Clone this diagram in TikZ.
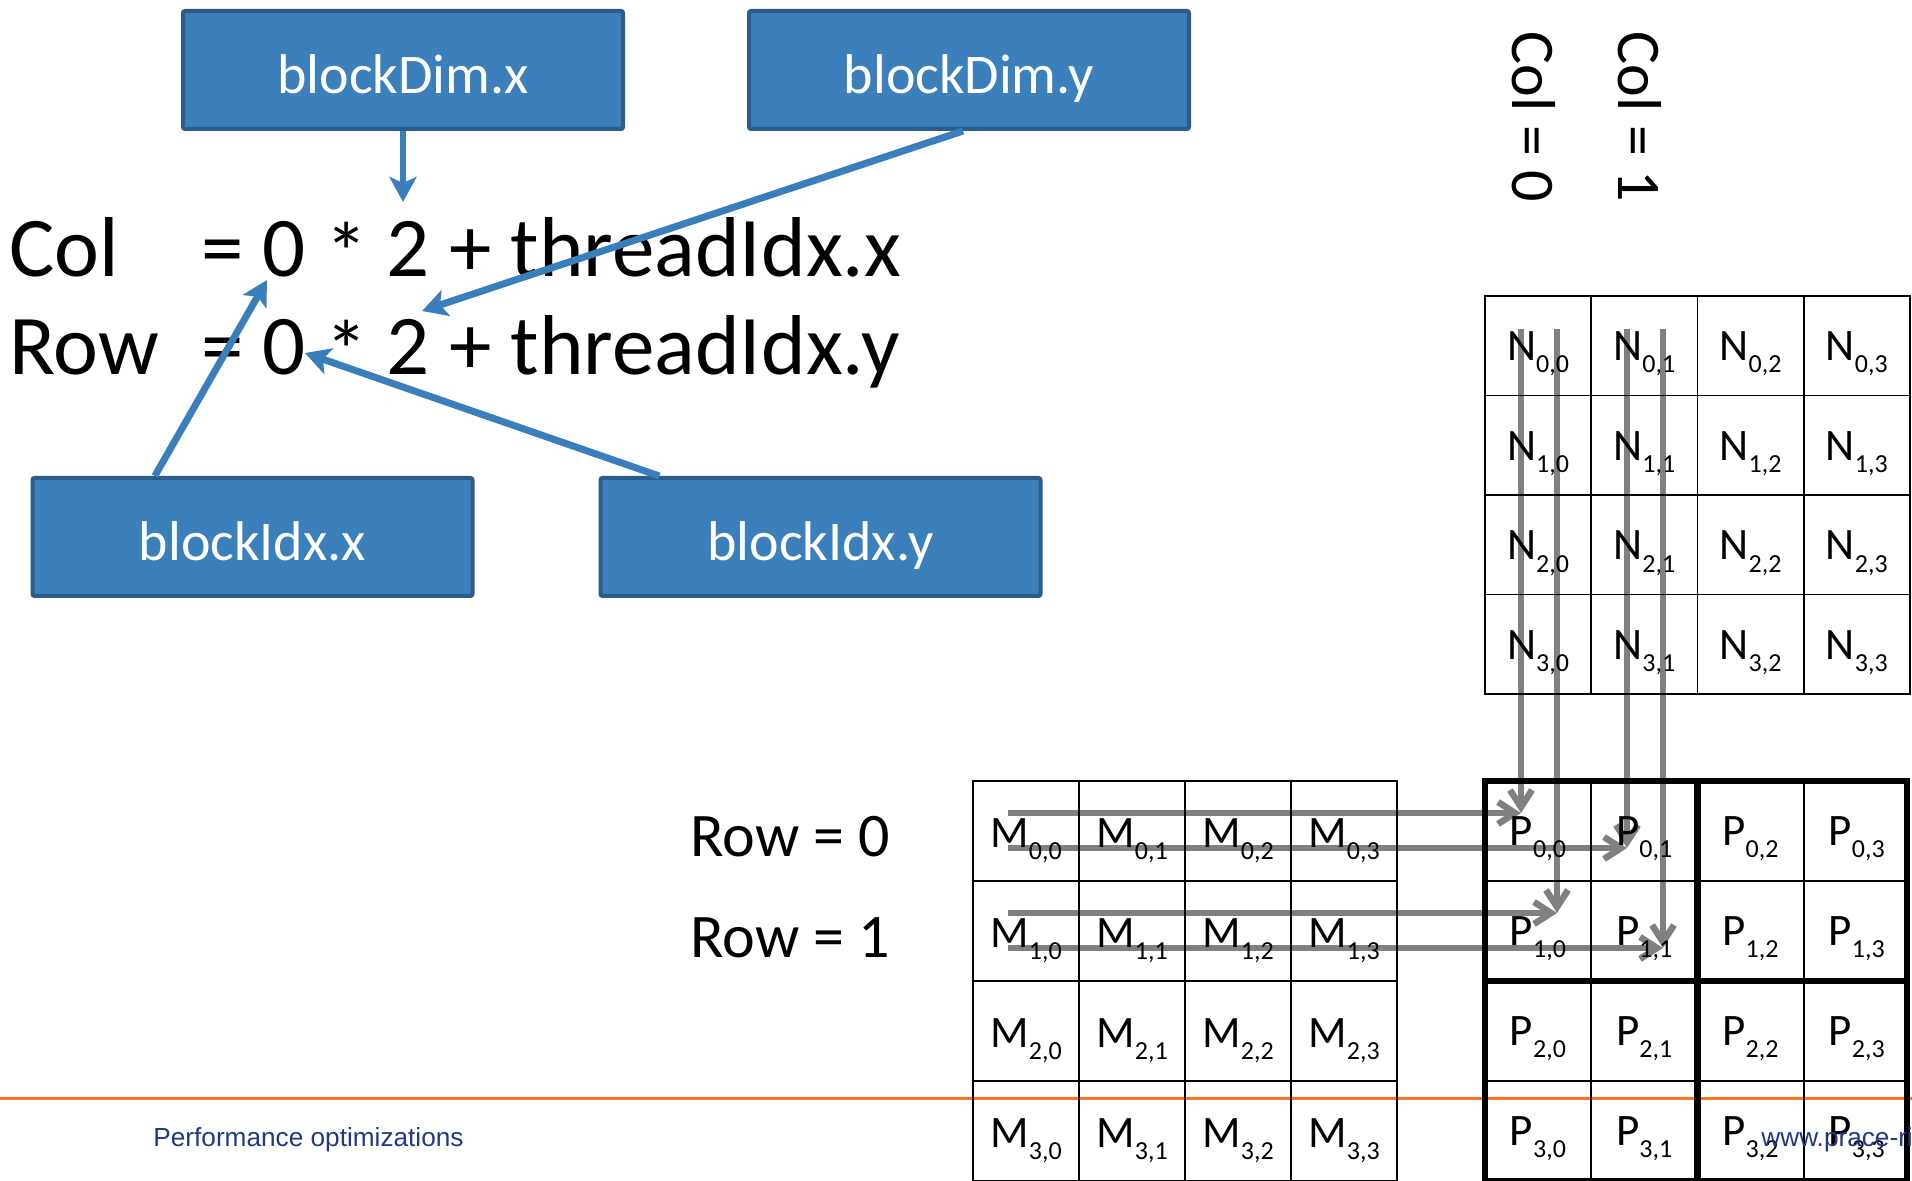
\documentclass[tikz,border=0pt]{standalone}
\usepackage{fontspec}
\setmainfont{Carlito}
\newfontfamily\footerfont{Liberation Sans}
\usetikzlibrary{arrows.meta,calc}

\definecolor{boxfill}{RGB}{59,128,187}
\definecolor{boxedge}{RGB}{44,93,138}
\definecolor{arrowblue}{RGB}{58,127,187}
\definecolor{flowgray}{RGB}{128,128,128}
\definecolor{footorange}{RGB}{255,112,32}
\definecolor{footnavy}{RGB}{32,56,134}

% matrix element: letter with a lowered "row,col" index
\newcommand\elem[3]{#1\raisebox{-6pt}{\fontsize{13pt}{13pt}\selectfont#2,#3}}
% multiplication sign sitting a little lower than the plain glyph
\newcommand\mulsign{\raisebox{-3pt}{*}}

\begin{document}
\begin{tikzpicture}[x=0.5pt,y=-0.5pt,
  varbox/.style={draw=boxedge, line width=2pt, fill=boxfill, rounded corners=1pt,
    minimum width=220pt, minimum height=59pt, inner sep=0pt, text=white,
    font=\fontsize{28pt}{32pt}\selectfont, text height=24pt, text depth=0pt},
  eqtext/.style={anchor=base west, inner sep=0pt, font=\fontsize{42.5pt}{50pt}\selectfont},
  idxlabel/.style={inner sep=0pt, font=\fontsize{31pt}{36pt}\selectfont},
  cell/.style={anchor=base, inner sep=0pt, font=\fontsize{22.5pt}{26pt}\selectfont},
  bluearrow/.style={draw=arrowblue, line width=3.5pt,
    -{Stealth[length=12.5pt, width=13.5pt, inset=3pt]}},
  flow/.style={draw=flowgray, line width=3.25pt,
    -{Straight Barb[length=8.5pt, width=11pt]}},
  thingrid/.style={line width=0.9pt, line cap=rect},
  thickgrid/.style={line width=3.3pt, line cap=rect},
  footer/.style={anchor=base west, inner sep=0pt, text=footnavy,
    font=\footerfont\fontsize{13.1pt}{15pt}\selectfont}
]
\clip (0,0) rectangle (1912,1181);
\useasboundingbox (0,0) rectangle (1912,1181);

% footer rule
\draw[footorange, line width=1.5pt] (0,1098) -- (1912,1098);

% ---------- index formula ----------
\node[varbox] (bdx) at (403,70) {blockDim.x};
\node[varbox] (bdy) at (969,70) {blockDim.y};
\node[varbox] (bix) at (252.5,537) {blockIdx.x};
\node[varbox] (biy) at (820.5,537) {blockIdx.y};

\node[eqtext] (colname) at (9,277) {Col};
\node[eqtext] (coleq) at (201,277) {= 0 \mulsign{} 2 + threadIdx.x};
\node[eqtext] (rowname) at (9,375) {Row};
\node[eqtext] (roweq) at (201,375) {= 0 \mulsign{} 2 + threadIdx.y};

\coordinate (dimxtip) at (403,202);
\coordinate (dimytip) at (422,311);
\coordinate (idxxtip) at (267,280);
\coordinate (idxytip) at (305,353);

\draw[bluearrow, line width=3.2pt] (bdx.south) -- (dimxtip);
\draw[bluearrow] ($(bdy.south)+(-6,0)$) -- (dimytip);
\draw[bluearrow] ($(bix.north west)!0.28!(bix.north east)$) -- (idxxtip);
\draw[bluearrow] ($(biy.north west)!0.137!(biy.north east)$) -- (idxytip);

% ---------- row / column labels ----------
\node[idxlabel, anchor=base west] (row0) at (690,856) {Row = 0};
\node[idxlabel, anchor=base west] (row1) at (690,957) {Row = 1};
\node[idxlabel, anchor=base west, rotate=-90] (col0) at (1512,31) {Col = 0};
\node[idxlabel, anchor=base west, rotate=-90] (col1) at (1618,31) {Col = 1};

% ---------- data flow into the P tile ----------
\coordinate (t00) at (1521,813);
\coordinate (t01) at (1627,848);
\coordinate (t10) at (1557,913);
\coordinate (t11) at (1663,948);
\coordinate (h00) at (1008,813);
\coordinate (h01) at (1008,848);
\coordinate (h10) at (1008,913);
\coordinate (h11) at (1008,948);
\coordinate (v00) at (1521,329);
\coordinate (v01) at (1627,329);
\coordinate (v10) at (1557,329);
\coordinate (v11) at (1663,329);
\draw[flow] (v00) -- (t00);
\draw[flow] (v10) -- (t10);
\draw[flow] (v01) -- (t01);
\draw[flow] (v11) -- (t11);
\draw[flow] (h00) -- (t00);
\draw[flow] (h01) -- (t01);
\draw[flow] (h10) -- (t10);
\draw[flow] (h11) -- (t11);

% ---------- N matrix ----------
\foreach \i in {0,...,4} {
  \draw[thingrid] ({1485+106.25*\i},296) -- ({1485+106.25*\i},694);
  \draw[thingrid] (1485,{296+99.5*\i}) -- (1910,{296+99.5*\i});
}
\foreach \r in {0,...,3} \foreach \c in {0,...,3} {
  \node[cell] (n\r\c) at ({1538+106.25*\c},{361+99.5*\r}) {\elem{N}{\r}{\c}};
}

% ---------- M matrix ----------
\foreach \i in {0,...,4} {
  \draw[thingrid] ({973+106*\i},781) -- ({973+106*\i},1180);
  \draw[thingrid] (973,{781+100*\i}) -- (1397,{781+100*\i});
}
\foreach \r in {0,...,3} \foreach \c in {0,...,3} {
  \node[cell] (m\r\c) at ({1026+106*\c},{847+100*\r}) {\elem{M}{\r}{\c}};
}

% ---------- P matrix, split into 2x2 tiles ----------
\foreach \x in {1591.25,1803.75}
  \draw[thingrid] (\x,781) -- (\x,1181);
\foreach \y in {881,1081}
  \draw[thingrid] (1485,\y) -- (1907,\y);
\foreach \x in {1485,1697.5,1907}
  \draw[thickgrid] (\x,781) -- (\x,1181);
\foreach \y in {781,981,1181}
  \draw[thickgrid] (1485,\y) -- (1907,\y);
\foreach \r in {0,...,3} \foreach \c in {0,...,3} {
  \node[cell] (p\r\c) at ({1538+106.25*\c},{845+100*\r}) {\elem{P}{\r}{\c}};
}

% ---------- footer ----------
\node[footer] (foottitle) at (153,1146) {Performance optimizations};
\node[footer] (footsite) at (1761,1146) {www.prace-ri.eu};
\end{tikzpicture}
\end{document}
